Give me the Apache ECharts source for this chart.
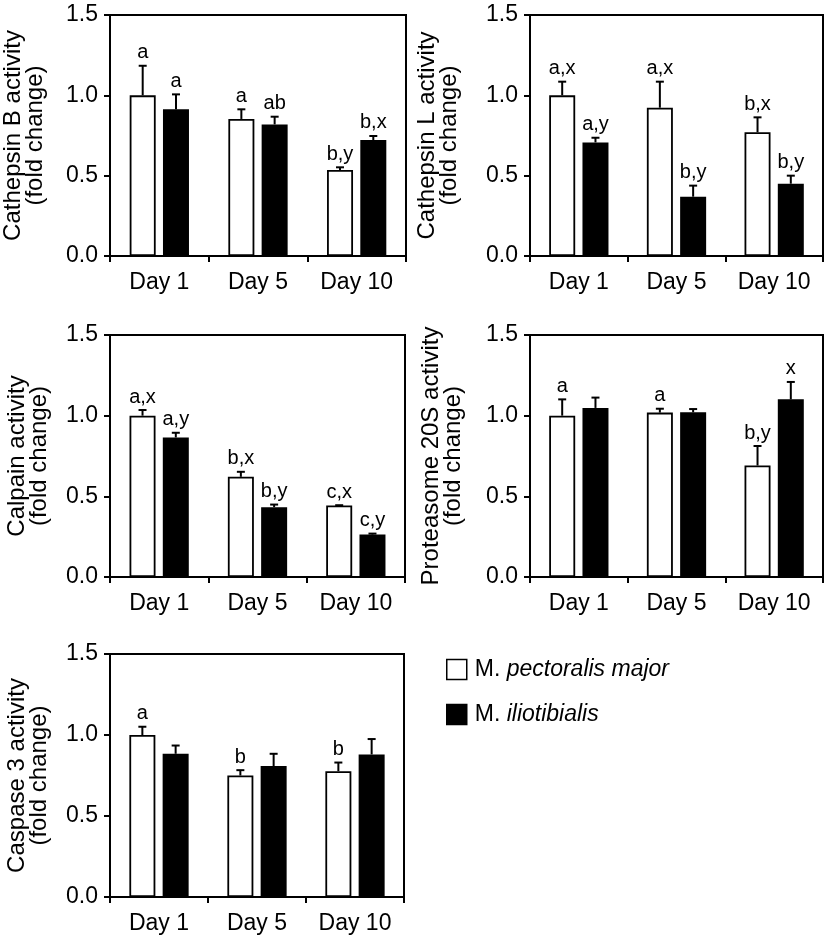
<!DOCTYPE html>
<html>
<head>
<meta charset="utf-8">
<script src="https://cdn.jsdelivr.net/npm/echarts@6/dist/echarts.min.js"></script>
<style>
html,body{margin:0;padding:0;background:#fff;}
#chart{width:827px;height:938px;}
</style>
</head>
<body>
<div id="chart"></div>
<script>
// ---------- data ----------
const categories = ['Day 1', 'Day 5', 'Day 10'];
const yTicks = [0, 0.5, 1.0, 1.5];
const seriesNames = ['M. pectoralis major', 'M. iliotibialis'];

// Cathepsin B
const catB_pectMean = [1.00, 0.853, 0.535];
const catB_pectErr  = [0.184, 0.060, 0.017];
const catB_ilioMean = [0.913, 0.819, 0.722];
const catB_ilioErr  = [0.093, 0.048, 0.025];
const catB_pectLab  = ['a', 'a', 'b,y'];
const catB_ilioLab  = ['a', 'ab', 'b,x'];

// Cathepsin L
const catL_pectMean = [1.00, 0.923, 0.770];
const catL_pectErr  = [0.085, 0.162, 0.093];
const catL_ilioMean = [0.707, 0.369, 0.450];
const catL_ilioErr  = [0.029, 0.069, 0.050];
const catL_pectLab  = ['a,x', 'a,x', 'b,x'];
const catL_ilioLab  = ['a,y', 'b,y', 'b,y'];

// Calpain
const calp_pectMean = [1.00, 0.621, 0.443];
const calp_pectErr  = [0.035, 0.031, 0.002];
const calp_ilioMean = [0.865, 0.433, 0.263];
const calp_ilioErr  = [0.029, 0.016, 0.006];
const calp_pectLab  = ['a,x', 'b,x', 'c,x'];
const calp_ilioLab  = ['a,y', 'b,y', 'c,y'];

// Proteasome 20S
const prot_pectMean = [1.00, 1.019, 0.691];
const prot_pectErr  = [0.101, 0.024, 0.121];
const prot_ilioMean = [1.048, 1.021, 1.101];
const prot_ilioErr  = [0.064, 0.020, 0.108];
const prot_pectLab  = ['a', 'a', 'b,y'];
const prot_ilioLab  = ['', '', 'x'];

// Caspase 3
const casp_pectMean = [1.00, 0.750, 0.777];
const casp_pectErr  = [0.051, 0.033, 0.053];
const casp_ilioMean = [0.884, 0.808, 0.880];
const casp_ilioErr  = [0.051, 0.076, 0.095];
const casp_pectLab  = ['a', 'b', 'b'];
const casp_ilioLab  = ['', '', ''];

const axisTitles = [
  'Cathepsin B activity\n(fold change)',
  'Cathepsin L activity\n(fold change)',
  'Calpain activity\n(fold change)',
  'Proteasome 20S activity\n(fold change)',
  'Caspase 3 activity\n(fold change)'
];

const panels = [
  [catB_pectMean, catB_pectErr, catB_pectLab, catB_ilioMean, catB_ilioErr, catB_ilioLab],
  [catL_pectMean, catL_pectErr, catL_pectLab, catL_ilioMean, catL_ilioErr, catL_ilioLab],
  [calp_pectMean, calp_pectErr, calp_pectLab, calp_ilioMean, calp_ilioErr, calp_ilioLab],
  [prot_pectMean, prot_pectErr, prot_pectLab, prot_ilioMean, prot_ilioErr, prot_ilioLab],
  [casp_pectMean, casp_pectErr, casp_pectLab, casp_ilioMean, casp_ilioErr, casp_ilioLab]
];

// ---------- layout / style ----------
const FONT = 'Liberation Sans, Arial, Helvetica, sans-serif';
const grids = [
  {left: 110, top: 15,  width: 296, height: 241},
  {left: 530, top: 15,  width: 293, height: 241},
  {left: 110, top: 335, width: 295, height: 242},
  {left: 530, top: 335, width: 293, height: 242},
  {left: 110, top: 654, width: 294, height: 243}
];
const nameGaps = [64, 70, 60, 66, 60];
const BAR_W = 26;
const BAR_GAP = 0.28;
const HALF_OFF = (BAR_W + BAR_W * BAR_GAP) / 2;

const chart = echarts.init(document.getElementById('chart'), null, {renderer: 'canvas'});

const option = {
  backgroundColor: '#fff',
  animation: false,
  textStyle: {fontFamily: FONT, color: '#000'},
  legend: {
    orient: 'vertical',
    left: 441,
    top: 653,
    itemWidth: 20,
    itemHeight: 20,
    itemGap: 22,
    icon: 'rect',
    data: [
      {name: seriesNames[0], itemStyle: {color: '#fff', borderColor: '#000', borderWidth: 1.5}},
      {name: seriesNames[1], itemStyle: {color: '#000', borderColor: '#000', borderWidth: 1.5}}
    ],
    formatter: function (name) {
      const parts = name.split('. ');
      return '{n|' + parts[0] + '. }{i|' + parts[1] + '}';
    },
    textStyle: {
      fontFamily: FONT,
      fontSize: 23,
      color: '#000',
      padding: [0, 0, 0, 3],
      rich: {
        n: {fontFamily: FONT, fontSize: 23, color: '#000'},
        i: {fontFamily: FONT, fontSize: 23, color: '#000', fontStyle: 'italic'}
      }
    },
    selectedMode: false
  },
  grid: [],
  xAxis: [],
  yAxis: [],
  series: []
};

grids.forEach(function (g, gi) {
  option.grid.push(Object.assign({show: true, borderColor: '#000', borderWidth: 2, backgroundColor: 'transparent', containLabel: false}, g));
  option.xAxis.push({
    type: 'category',
    gridIndex: gi,
    data: categories,
    axisLine: {lineStyle: {color: '#000', width: 2}},
    axisTick: {show: true, length: 6, lineStyle: {color: '#000', width: 2}},
    axisLabel: {fontFamily: FONT, fontSize: 23, color: '#000', margin: 15},
    splitLine: {show: false}
  });
  option.yAxis.push({
    type: 'value',
    gridIndex: gi,
    min: yTicks[0],
    max: yTicks[yTicks.length - 1],
    interval: yTicks[1] - yTicks[0],
    name: axisTitles[gi],
    nameLocation: 'middle',
    nameRotate: 90,
    nameGap: nameGaps[gi],
    nameTextStyle: {fontFamily: FONT, fontSize: 24, color: '#000', lineHeight: 22},
    axisLine: {show: true, lineStyle: {color: '#000', width: 2}},
    axisTick: {show: true, length: 6, lineStyle: {color: '#000', width: 2}},
    axisLabel: {fontFamily: FONT, fontSize: 23, color: '#000', margin: 12,
      formatter: function (v) { return v.toFixed(1); }},
    splitLine: {show: false}
  });

  const p = panels[gi];
  const groups = [
    {name: seriesNames[0], mean: p[0], err: p[1], lab: p[2], fill: '#fff', side: -1},
    {name: seriesNames[1], mean: p[3], err: p[4], lab: p[5], fill: '#000', side: 1}
  ];
  groups.forEach(function (s) {
    option.series.push({
      type: 'bar',
      name: s.name,
      xAxisIndex: gi,
      yAxisIndex: gi,
      data: s.mean,
      barWidth: BAR_W,
      barGap: (BAR_GAP * 100) + '%',
      itemStyle: {color: s.fill, borderColor: '#000', borderWidth: 1.8},
      z: 2
    });
  });
  groups.forEach(function (s) {
    const errData = s.mean.map(function (m, i) { return [i, m, m + s.err[i]]; });
    option.series.push({
      type: 'custom',
      name: s.name + ' err',
      xAxisIndex: gi,
      yAxisIndex: gi,
      data: errData,
      encode: {x: 0, y: [1, 2]},
      z: 3,
      clip: false,
      renderItem: function (params, api) {
        const idx = api.value(0);
        const base = api.coord([idx, api.value(1)]);
        const top = api.coord([idx, api.value(2)]);
        const x = base[0] + s.side * HALF_OFF;
        const capHalf = 4;
        const label = s.lab[params.dataIndex];
        const children = [
          {type: 'line', shape: {x1: x, y1: base[1], x2: x, y2: top[1]}, style: {stroke: '#000', lineWidth: 2}},
          {type: 'line', shape: {x1: x - capHalf, y1: top[1], x2: x + capHalf, y2: top[1]}, style: {stroke: '#000', lineWidth: 2}}
        ];
        if (label) {
          children.push({
            type: 'text',
            style: {
              x: x, y: top[1] - 3,
              text: label,
              fill: '#000',
              font: '20px ' + FONT,
              align: 'center',
              verticalAlign: 'bottom'
            }
          });
        }
        return {type: 'group', children: children};
      }
    });
  });
});

chart.setOption(option);
</script>
</body>
</html>
